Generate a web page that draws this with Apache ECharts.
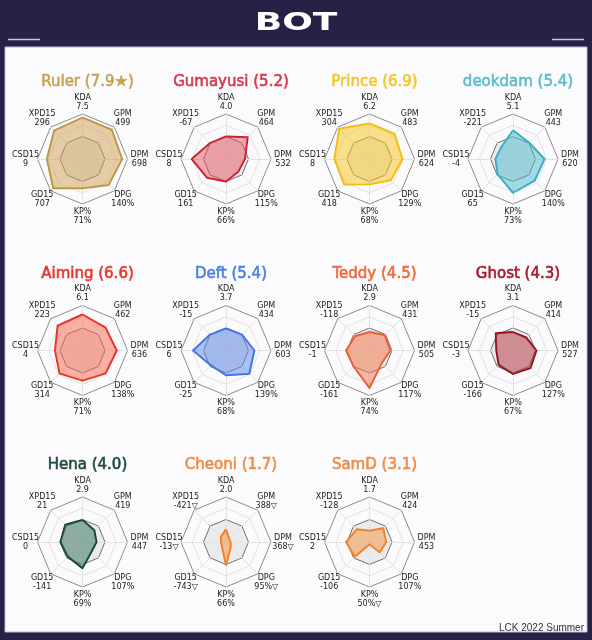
<!DOCTYPE html>
<html>
<head>
<meta charset="utf-8">
<script src="https://cdn.jsdelivr.net/npm/echarts@6/dist/echarts.min.js"></script>
<style>
  html, body { margin: 0; padding: 0; background: #272245; }
  #main { width: 592px; height: 640px; }
</style>
</head>
<body>
<div id="main"></div>
<script>
// players, in reading order
var players = ['Ruler', 'Gumayusi', 'Prince', 'deokdam', 'Aiming', 'Deft', 'Teddy', 'Ghost', 'Hena', 'Cheoni', 'SamD'];
var ratings = ['7.9★', '5.2', '6.9', '5.4', '6.6', '5.4', '4.5', '4.3', '4.0', '1.7', '3.1'];

// stat names, clockwise from the top
var statNames = ['KDA', 'GPM', 'DPM', 'DPG', 'KP%', 'GD15', 'CSD15', 'XPD15'];

// raw stat text shown at each axis
var kdaText   = ['7.5', '4.0', '6.2', '5.1', '6.1', '3.7', '2.9', '3.1', '2.9', '2.0', '1.7'];
var gpmText   = ['499', '464', '483', '443', '462', '434', '431', '414', '419', '388▽', '424'];
var dpmText   = ['698', '532', '624', '620', '636', '603', '505', '527', '447', '368▽', '453'];
var dpgText   = ['140%', '115%', '129%', '140%', '138%', '139%', '117%', '127%', '107%', '95%▽', '107%'];
var kpText    = ['71%', '66%', '68%', '73%', '71%', '68%', '74%', '67%', '69%', '66%', '50%▽'];
var gd15Text  = ['707', '161', '418', '65', '314', '-25', '-161', '-166', '-141', '-743▽', '-106'];
var csd15Text = ['9', '8', '8', '-4', '4', '6', '-1', '-3', '0', '-13▽', '2'];
var xpd15Text = ['296', '-67', '304', '-221', '223', '-15', '-118', '-15', '21', '-421▽', '-128'];

// scaled scores (0..1), order: KDA, GPM, DPM, DPG, KP%, GD15, CSD15, XPD15
var scores = [
    [0.92, 0.92, 0.88, 0.82, 0.65, 0.92, 0.79, 0.89],
    [0.50, 0.68, 0.42, 0.39, 0.50, 0.59, 0.76, 0.50],
    [0.79, 0.79, 0.73, 0.67, 0.56, 0.80, 0.78, 0.95],
    [0.64, 0.51, 0.70, 0.68, 0.75, 0.48, 0.39, 0.37],
    [0.80, 0.72, 0.76, 0.72, 0.67, 0.72, 0.61, 0.78],
    [0.49, 0.50, 0.63, 0.73, 0.55, 0.47, 0.73, 0.50],
    [0.41, 0.48, 0.46, 0.39, 0.83, 0.50, 0.52, 0.45],
    [0.41, 0.41, 0.52, 0.55, 0.52, 0.45, 0.37, 0.54],
    [0.49, 0.37, 0.31, 0.29, 0.58, 0.46, 0.49, 0.54],
    [0.28, 0.10, 0.10, 0.15, 0.51, 0.13, 0.11, 0.16],
    [0.25, 0.43, 0.37, 0.32, 0.05, 0.46, 0.52, 0.40]
];

var titleColors = ['#c9a256', '#d83a4c', '#f6c52a', '#5dbccb', '#e8382c', '#4d82de', '#ef6a3e', '#a51b2c', '#1f4a40', '#f08c46', '#f08c46'];
var lineColors  = ['#b89440', '#c8182c', '#f3bb10', '#3aaabd', '#e3261a', '#3c70d8', '#e8562a', '#8c0c1c', '#123a30', '#f07c22', '#f07c22'];
var fillColors  = ['rgba(208,164,88,0.75)', 'rgba(230,76,88,0.68)', 'rgba(250,198,36,0.75)', 'rgba(76,186,204,0.72)',
                   'rgba(250,100,80,0.72)', 'rgba(92,136,238,0.72)', 'rgba(246,120,80,0.75)', 'rgba(178,52,62,0.72)',
                   'rgba(58,118,98,0.75)', 'rgba(246,146,66,0.72)', 'rgba(246,146,66,0.72)'];

var colX = [82.5, 226, 369.5, 513];
var rowY = [159, 350.5, 542];

var chart = echarts.init(document.getElementById('main'));

// echarts puts radar indicators counter-clockwise, so walk the clockwise list backwards
var ccwOrder = [0, 7, 6, 5, 4, 3, 2, 1];

var radars = [], series = [], titles = [];
players.forEach(function(p, i) {
    var cx = colX[i % 4], cy = rowY[Math.floor(i / 4)];
    var texts = [kdaText[i], gpmText[i], dpmText[i], dpgText[i], kpText[i], gd15Text[i], csd15Text[i], xpd15Text[i]];
    radars.push({
        center: [cx, cy],
        radius: 45,
        startAngle: 90,
        splitNumber: 4,
        shape: 'polygon',
        axisNameGap: 12,
        indicator: ccwOrder.map(function(k) {
            return { name: statNames[k] + '\n' + texts[k], min: 0, max: 1 };
        }),
        axisName: {
            color: '#222',
            fontSize: 8,
            lineHeight: 9,
            fontFamily: 'DejaVu Sans',
            align: 'center',
            verticalAlign: 'middle'
        },
        axisLine: { lineStyle: { color: '#e2e2e2', width: 1 } },
        splitLine: {
            lineStyle: {
                color: ['#ddd', '#e6e6e6', '#707070', '#e2e2e2', '#8c8c8c'],
                width: 1
            }
        },
        splitArea: {
            areaStyle: {
                color: ['#ebebeb', '#ebebeb', 'rgba(0,0,0,0)', 'rgba(0,0,0,0)']
            }
        }
    });
    series.push({
        type: 'radar',
        radarIndex: i,
        symbol: 'none',
        lineStyle: { color: lineColors[i], width: 2 },
        areaStyle: { color: fillColors[i] },
        data: [{ value: ccwOrder.map(function(k) { return scores[i][k]; }), name: p }]
    });
    titles.push({
        text: p + ' (' + ratings[i] + ')',
        left: cx,
        top: cy - 89,
        textAlign: 'center',
        textStyle: {
            color: titleColors[i], fontSize: 15, fontWeight: 'normal', fontFamily: 'DejaVu Sans',
            textBorderColor: titleColors[i], textBorderWidth: 0.6
        }
    });
});

var option = {
    backgroundColor: '#272245',
    animation: false,
    title: titles,
    radar: radars,
    series: series,
    graphic: [
        { type: 'rect', z: -10, shape: { x: 5, y: 47, width: 582, height: 585 },
          style: { fill: '#fbfbfd', stroke: '#bdb8d6', lineWidth: 1 } },
        { type: 'text', x: 296, y: 24, scaleX: 1.5,
          style: { text: 'BOT', fill: '#ffffff', font: 'bold 24px "DejaVu Sans"', align: 'center', verticalAlign: 'middle' } },
        { type: 'line', shape: { x1: 8, y1: 39.5, x2: 40, y2: 39.5 }, style: { stroke: '#c9c6da', lineWidth: 1.5 } },
        { type: 'line', shape: { x1: 552, y1: 39.5, x2: 584, y2: 39.5 }, style: { stroke: '#c9c6da', lineWidth: 1.5 } },
        { type: 'text', x: 584, y: 628,
          style: { text: 'LCK 2022 Summer', fill: '#333', font: '10px "Liberation Sans"', align: 'right', verticalAlign: 'middle' } }
    ]
};

chart.setOption(option);
</script>
</body>
</html>
